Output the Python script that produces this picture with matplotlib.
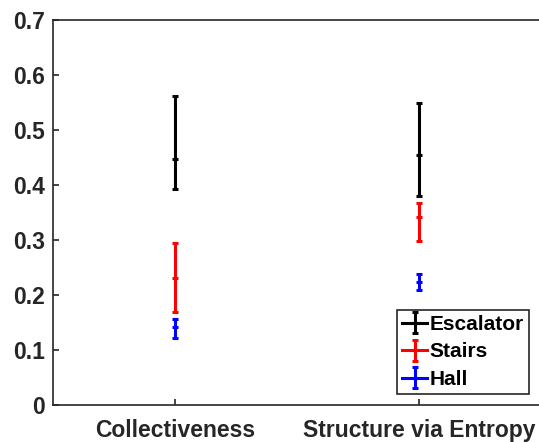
import matplotlib.pyplot as plt
import numpy as np

plt.rcParams['font.family'] = ['Liberation Sans', 'DejaVu Sans']
plt.rcParams['font.weight'] = 'bold'

categories = ['Collectiveness', 'Structure via Entropy']
series = ['Escalator', 'Stairs', 'Hall']
colors = ['black', 'red', 'blue']

# mean, lower bound, upper bound per category
means = {
    'Escalator': [0.448, 0.455],
    'Stairs': [0.231, 0.342],
    'Hall': [0.141, 0.224],
}
lower = {
    'Escalator': [0.393, 0.380],
    'Stairs': [0.169, 0.299],
    'Hall': [0.122, 0.209],
}
upper = {
    'Escalator': [0.562, 0.549],
    'Stairs': [0.294, 0.368],
    'Hall': [0.156, 0.238],
}

yticks = [0, 0.1, 0.2, 0.3, 0.4, 0.5, 0.6, 0.7]
ytick_labels = ['0', '0.1', '0.2', '0.3', '0.4', '0.5', '0.6', '0.7']

fig = plt.figure(figsize=(5.39, 4.42), dpi=100)
ax = fig.add_axes([53 / 539, 1 - 405 / 442, 488 / 539, 385 / 442])

x = np.arange(1, len(categories) + 1)
for name, c in zip(series, colors):
    # one call per point so no line joins the categories,
    # while the legend entry still gets its horizontal stroke
    for i, xi in enumerate(x):
        m = means[name][i]
        err = [[m - lower[name][i]], [upper[name][i] - m]]
        ax.errorbar([xi], [m], yerr=err, fmt='-', marker='_', color=c,
                    ecolor=c, linewidth=2.2, elinewidth=2.2, capsize=2.2,
                    capthick=2.2, markersize=5, markeredgewidth=2.2,
                    label=name if i == 0 else None)

ax.set_xlim(0.5, 2.5)
ax.set_ylim(0, 0.7)
ax.set_xticks(x)
ax.set_xticklabels(categories)
ax.set_yticks(yticks)
ax.set_yticklabels(ytick_labels)

axc = '#262626'
for s in ax.spines.values():
    s.set_color(axc)
    s.set_linewidth(1.2)
ax.tick_params(direction='in', length=4, width=1.2, colors=axc,
               labelsize=16.5, pad=6, right=False, top=False)
ax.tick_params(axis='x', pad=10)
for lab in ax.get_xticklabels() + ax.get_yticklabels():
    lab.set_fontweight('bold')
    lab.set_color(axc)

leg = ax.legend(loc='lower right', bbox_to_anchor=(529 / 539, 1 - 394 / 442),
                bbox_transform=fig.transFigure, borderaxespad=0,
                fancybox=False, framealpha=1,
                handlelength=1.2, handletextpad=0.1, labelspacing=0.4,
                borderpad=0.25, prop={'weight': 'bold', 'size': 15})
leg.get_frame().set_edgecolor(axc)
leg.get_frame().set_linewidth(1.2)

fig.savefig('out.png', dpi=100)
